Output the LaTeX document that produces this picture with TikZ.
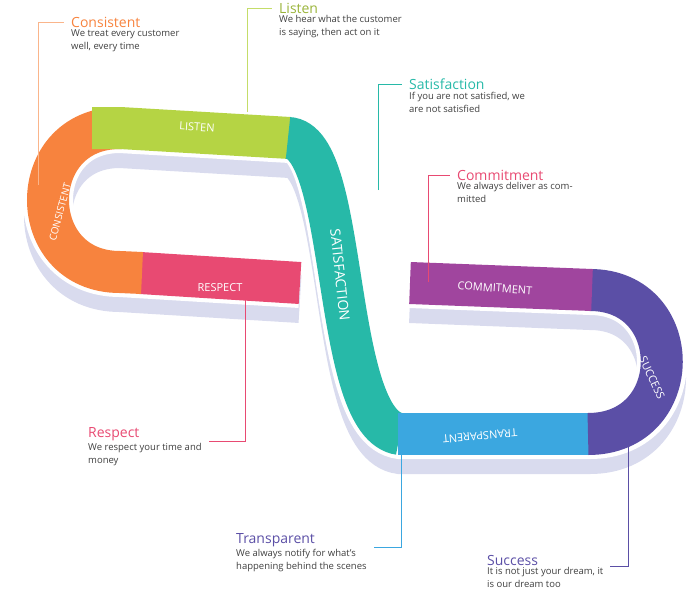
\documentclass[tikz,border=0pt]{standalone}
\usepackage{fontspec}
\setmainfont{Open Sans}
\usetikzlibrary{positioning,calc}
\definecolor{cOrange}{HTML}{F7833E}
\definecolor{cLime}{HTML}{B5D444}
\definecolor{cTeal}{HTML}{27B9A8}
\definecolor{cPink}{HTML}{E84A72}
\definecolor{cPurple}{HTML}{A0459E}
\definecolor{cIndigo}{HTML}{5B4FA6}
\definecolor{cBlue}{HTML}{3BA7E0}
\definecolor{cBase}{HTML}{D9DBEE}
\tikzset{
  band/.style={line width=42pt},
  base/.style={line width=48pt,draw=cBase},
  rim/.style={line width=50pt,draw=white},
  bandlabel/.style={text=white,font=\fontsize{11}{13}\selectfont},
  title/.style={anchor=west,inner sep=1pt,font=\fontsize{14}{16}\selectfont},
  body/.style={anchor=north west,align=left,inner sep=1pt,text=black!75,
    font=\fontsize{9.5}{13}\selectfont},
  callout/.style={line width=0.8pt}
}
\newcommand\ribbon[1]{%
  \draw[#1] (300,283) -- (120,272) .. controls (24,272) and (24,128) .. (120,128) -- (290,138)
    .. controls (350,140) and (330,425) .. (400,434) -- (590,434)
    .. controls (686,434) and (686,290) .. (590,290) -- (410,283);}
\begin{document}
\begin{tikzpicture}[x=1pt,y=-1pt]
  \useasboundingbox (0,0) rectangle (700,597);
  % base of the ribbon
  \begin{scope}[yshift=-16pt]
    \ribbon{base}
  \end{scope}
  \ribbon{rim}
  % coloured segments
  \draw[band,draw=cPink] (300,283) -- (140,273);
  \draw[band,draw=cOrange] (142,273) -- (120,272) .. controls (24,272) and (24,128) .. (120,128) -- (122,128);
  \draw[band,draw=cLime] (92,128) -- (120,128) -- (290,138);
  \draw[band,draw=cTeal] (288,138) .. controls (350,140) and (330,425) .. (400,434);
  \draw[band,draw=cBlue] (398,434) -- (590,434);
  \draw[band,draw=cIndigo] (588,434) .. controls (686,434) and (686,290) .. (590,290);
  \draw[band,draw=cPurple] (592,290) -- (410,283);
  % band labels
  \node[bandlabel,rotate=-4] (lListen) at (197,127) {LISTEN};
  \node[bandlabel,rotate=75,font=\fontsize{10}{12}\selectfont] (lConsistent) at (60,212) {CONSISTENT};
  \node[bandlabel] (lRespect) at (220,288) {RESPECT};
  \node[bandlabel,rotate=-84,font=\fontsize{14}{16}\selectfont] (lSatisfaction) at (340,275) {SATISFACTION};
  \node[bandlabel,rotate=-4] (lCommitment) at (495,288) {COMMITMENT};
  \node[bandlabel,rotate=-65] (lSuccess) at (652,378) {SUCCESS};
  \node[bandlabel,rotate=185] (lTransparent) at (480,436) {TRANSPARENT};
  % callout texts
  \node[title,text=cOrange] (tConsistent) at (70,22) {Consistent};
  \node[body] (bConsistent) at (tConsistent.south west) {We treat every customer\\well, every time};
  \node[title,text=cLime!85!black] (tListen) at (278,8) {Listen};
  \node[body] (bListen) at (tListen.south west) {We hear what the customer\\is saying, then act on it};
  \node[title,text=cTeal] (tSatisfaction) at (408,84) {Satisfaction};
  \node[body] (bSatisfaction) at (tSatisfaction.south west) {If you are not satisfied, we\\are not satisfied};
  \node[title,text=cPink] (tCommitment) at (456,175) {Commitment};
  \node[body] (bCommitment) at (tCommitment.south west) {We always deliver as com-\\mitted};
  \node[title,text=cPink] (tRespect) at (87,434) {Respect};
  \node[body] (bRespect) at (tRespect.south west) {We respect your time and\\money};
  \node[title,text=cIndigo] (tTransparent) at (235,540) {Transparent};
  \node[body] (bTransparent) at (tTransparent.south west) {We always notify for what's\\happening behind the scenes};
  \node[title,text=cIndigo] (tSuccess) at (486,560) {Success};
  \node[body] (bSuccess) at (tSuccess.south west) {It is not just your dream, it\\is our dream too};
  % callout lines
  \coordinate (pConsistent) at (38,185);
  \coordinate (pListen) at (247,112);
  \coordinate (pSatisfaction) at (378,190);
  \coordinate (pCommitment) at (428,282);
  \coordinate (pRespect) at (245,292);
  \coordinate (pTransparent) at (401,440);
  \coordinate (pSuccess) at (628,420);
  \draw[callout,cOrange!60] (pConsistent) |- ([xshift=-6pt]tConsistent.west);
  \draw[callout,cLime!80] (pListen) |- ([xshift=-6pt]tListen.west);
  \draw[callout,cTeal] (pSatisfaction) |- ([xshift=-6pt]tSatisfaction.west);
  \draw[callout,cPink] (pCommitment) |- ([xshift=-6pt]tCommitment.west);
  \draw[callout,cPink] (pRespect) |- ([xshift=6pt]bRespect.north east);
  \draw[callout,cBlue] (pTransparent) |- ([xshift=6pt]bTransparent.north east);
  \draw[callout,cIndigo] (pSuccess) |- ([xshift=6pt]bSuccess.north east);
\end{tikzpicture}
\end{document}
